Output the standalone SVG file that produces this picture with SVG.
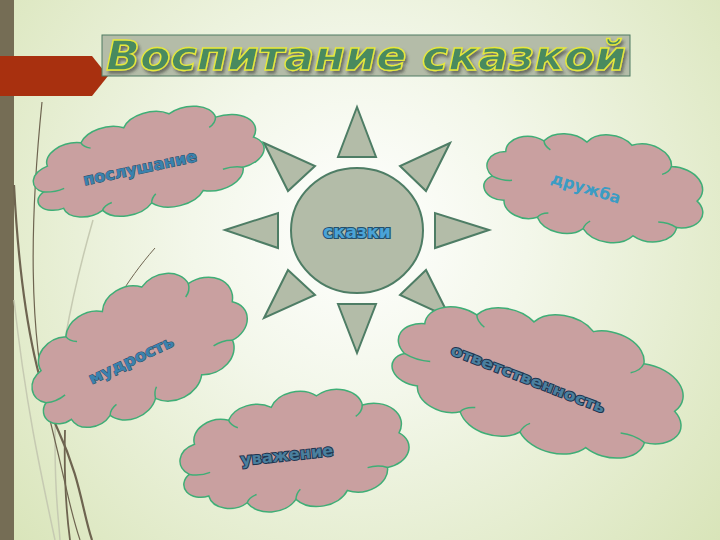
<svg xmlns="http://www.w3.org/2000/svg" xmlns:xlink="http://www.w3.org/1999/xlink" width="720" height="540" viewBox="0 0 720 540">
<defs>
  <radialGradient id="bg" cx="360" cy="230" r="480" gradientUnits="userSpaceOnUse">
    <stop offset="0" stop-color="#ffffff"/>
    <stop offset="0.35" stop-color="#f3f7ea"/>
    <stop offset="1" stop-color="#d8e4b8"/>
  </radialGradient>
  <filter id="shadow" x="-10%" y="-30%" width="120%" height="160%">
    <feDropShadow dx="2" dy="3" stdDeviation="1.5" flood-color="#333" flood-opacity="0.55"/>
  </filter>
  <path id="cloudShape" vector-effect="non-scaling-stroke" d="M-88,12 A20,20 0 0 1 -80,-22 A22,22 0 0 1 -48,-44 A24,24 0 0 1 -10,-52 A24,24 0 0 1 30,-58 A24,24 0 0 1 68,-40 A26,26 0 0 1 96,-2 A22,22 0 0 1 82,36 A24,24 0 0 1 45,56 A26,26 0 0 1 0,58 A24,24 0 0 1 -42,54 A20,20 0 0 1 -74,40 A16,16 0 0 1 -88,12 Z"/>
  <path id="cloudCurls" vector-effect="non-scaling-stroke" d="M-88,12 q9,4 18,1 M-48,-44 q1,6 7,10 M68,-40 q-1,8 -7,12 M82,36 q-8,-5 -17,-3 M0,58 q1,-7 5,-11 M-42,54 q2,-6 9,-8"/>
  <g id="cloud">
    <use xlink:href="#cloudShape" class="cloudFill"/>
    <use xlink:href="#cloudCurls" class="cloudCurl"/>
  </g>
</defs>
<style>
  .cloudFill { fill: #c9a0a0; stroke: #3fae76; stroke-width: 1.5; }
  .cloudCurl { fill: none; stroke: #3fae76; stroke-width: 1.5; }
  .ray { fill: #b3bca8; stroke: #4e7d65; stroke-width: 2; stroke-linejoin: miter; }
  .lbl { font-family: "DejaVu Sans", "Liberation Sans", sans-serif; font-weight: bold; text-anchor: middle; dominant-baseline: central; paint-order: stroke; }
  .deco { fill: none; stroke: #6e6450; }
  .decoLight { fill: none; stroke: #c6cab2; stroke-width: 1.5; }
</style>

<rect width="720" height="540" fill="url(#bg)"/>

<g id="decor">
  <rect x="0" y="0" width="14" height="540" fill="#756d55"/>
  <path class="decoLight" d="M93,220 C70,300 55,380 55,440 S58,510 60,540"/>
  <path class="decoLight" d="M14,300 C25,400 40,470 55,540"/>
  <path class="deco" stroke-width="1.2" d="M42,102 C30,220 28,330 50,420 S70,510 80,540"/>
  <path class="deco" stroke-width="2.2" d="M14,185 C20,300 35,380 58,430 S82,510 92,540"/>
  <path class="deco" stroke-width="1.8" d="M65,430 C64,470 66,510 70,540"/>
  <path class="deco" stroke-width="1" d="M155,248 C140,265 128,282 117,300"/>
  <path d="M0,56 L92,56 L108,76 L92,96 L0,96 Z" fill="#a8300f"/>
</g>

<g id="title">
  <rect x="102" y="35" width="528" height="41" fill="#b4bca8" stroke="#4f7a63" stroke-width="1"/>
  <text x="366" y="70" font-family="'DejaVu Sans', 'Liberation Sans', sans-serif" font-size="40" font-weight="bold" font-style="italic" text-anchor="middle" textLength="520" lengthAdjust="spacingAndGlyphs" fill="#4a8a5e" stroke="#e6e83c" stroke-width="1.3" filter="url(#shadow)">Воспитание сказкой</text>
</g>

<g id="sun">
  <polygon class="ray" points="357,107 338,157 376,157"/>
  <polygon class="ray" points="357,353 338,304 376,304"/>
  <polygon class="ray" points="225,230 278,213 278,248"/>
  <polygon class="ray" points="489,230 435,213 435,248"/>
  <polygon class="ray" points="264,143 315,166 288,191"/>
  <polygon class="ray" points="450,143 400,166 426,191"/>
  <polygon class="ray" points="288,270 315,295 264,318"/>
  <polygon class="ray" points="426,270 400,295 450,318"/>
  <ellipse class="ray" cx="357" cy="230.5" rx="66" ry="62.5"/>
  <text class="lbl" x="357" y="232" font-size="17" textLength="68" lengthAdjust="spacingAndGlyphs" fill="#4aa3d6" stroke="#24506e" stroke-width="2.2">сказки</text>
</g>

<g id="cloud-poslushanie">
  <use xlink:href="#cloud" transform="translate(143,162) rotate(-12) scale(1.18,0.72)"/>
  <text class="lbl" transform="translate(140,168) rotate(-12)" font-size="16" textLength="116" lengthAdjust="spacingAndGlyphs" fill="#3a82ae" stroke="#2a4c66" stroke-width="1">послушание</text>
</g>

<g id="cloud-druzhba">
  <use xlink:href="#cloud" transform="translate(591,184) rotate(10) scale(1.12,0.78)"/>
  <text class="lbl" transform="translate(586,188) rotate(17)" font-size="16" textLength="72" lengthAdjust="spacingAndGlyphs" fill="#3b9cc4">дружба</text>
</g>

<g id="cloud-mudrost">
  <use xlink:href="#cloud" transform="translate(133,350) rotate(-25) scale(1.15,0.92)"/>
  <text class="lbl" transform="translate(131,360) rotate(-25)" font-size="16" textLength="92" lengthAdjust="spacingAndGlyphs" fill="#3a82ae" stroke="#2a4c66" stroke-width="1">мудрость</text>
</g>

<g id="cloud-otvetstvennost">
  <use xlink:href="#cloud" transform="translate(535,376) rotate(15) scale(1.5,1.0)"/>
  <text class="lbl" transform="translate(528,379) rotate(21)" font-size="15" textLength="164" lengthAdjust="spacingAndGlyphs" fill="#4a7f9e" stroke="#1f3550" stroke-width="2">ответственность</text>
</g>

<g id="cloud-uvazhenie">
  <use xlink:href="#cloud" transform="translate(289,450) rotate(-8) scale(1.16,0.86)"/>
  <text class="lbl" transform="translate(287,455) rotate(-6)" font-size="16" textLength="93" lengthAdjust="spacingAndGlyphs" fill="#4a7f9e" stroke="#1f3550" stroke-width="2">уважение</text>
</g>

<g id="connectors"></g>
</svg>
